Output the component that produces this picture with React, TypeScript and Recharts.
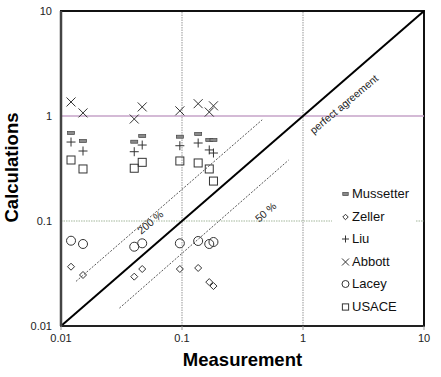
import React from 'react';
import {
  ScatterChart,
  Scatter,
  XAxis,
  YAxis,
  ReferenceLine,
  ReferenceArea,
  ReferenceDot,
  Legend,
  Label,
} from 'recharts';

// ---- data ----
const measurement = [0.0121, 0.0152, 0.0403, 0.0469, 0.096, 0.136, 0.168, 0.182];
const mussetter = [0.689, 0.578, 0.569, 0.645, 0.635, 0.674, 0.591, 0.591];
const zeller = [0.0367, 0.0306, 0.0295, 0.0349, 0.0349, 0.0357, 0.0262, 0.024];
const liu = [0.565, 0.464, 0.457, 0.529, 0.521, 0.553, 0.475, 0.444];
const abbott = [1.36, 1.07, 0.936, 1.22, 1.12, 1.31, 1.09, 1.25];
const lacey = [0.0649, 0.0604, 0.0569, 0.0613, 0.0613, 0.0645, 0.0604, 0.0631];
const usace = [0.381, 0.313, 0.318, 0.362, 0.373, 0.357, 0.313, 0.24];

const seriesNames = ['Mussetter', 'Zeller', 'Liu', 'Abbott', 'Lacey', 'USACE'];
const seriesValues = [mussetter, zeller, liu, abbott, lacey, usace];
const seriesMarkers = ['dash', 'diamond', 'plus', 'cross', 'circle', 'square'];

const axisTicks = [0.01, 0.1, 1, 10];
const axisTickLabels = ['0.01', '0.1', '1', '10'];

const perfectX = [0.01, 10];
const perfectY = [0.01, 10];
const line200X = [0.0133, 0.46];
const line200Y = [0.0266, 0.92];
const line50X = [0.0304, 0.76];
const line50Y = [0.0148, 0.38];

const annotationText = ['perfect  agreement', '200 %', '50 %'];
const annotationX = [2.17, 0.0546, 0.49];
const annotationY = [1.3, 0.0978, 0.122];

const FONT = "'Liberation Sans', Arial, Helvetica, sans-serif";
const INK = '#333';

function drawMarker(kind: string, cx: number, cy: number, s: number = 1) {
  const common = { stroke: INK, strokeWidth: 1, fill: 'none' };
  switch (kind) {
    case 'dash':
      return <rect x={cx - 3.5 * s} y={cy - 1.5} width={7 * s} height={3} fill="#8a8a8a" stroke="#444" strokeWidth={0.7} />;
    case 'diamond': {
      const d = 3.5 * s;
      return <path d={`M${cx},${cy - d}L${cx + d},${cy}L${cx},${cy + d}L${cx - d},${cy}Z`} {...common} />;
    }
    case 'plus': {
      const d = 4.5 * s;
      return <path d={`M${cx - d},${cy}H${cx + d}M${cx},${cy - d}V${cy + d}`} {...common} />;
    }
    case 'cross': {
      const d = 4.5 * s;
      return <path d={`M${cx - d},${cy - d}L${cx + d},${cy + d}M${cx - d},${cy + d}L${cx + d},${cy - d}`} {...common} />;
    }
    case 'circle':
      return <circle cx={cx} cy={cy} r={4.5 * s} {...common} />;
    case 'square':
    default: {
      const d = 4 * s;
      return <rect x={cx - d} y={cy - d} width={2 * d} height={2 * d} {...common} />;
    }
  }
}

const renderLegend = () => (
  <div style={{ background: '#fff', width: 83, fontFamily: FONT }}>
    {seriesNames.map((name, i) => (
      <div key={name} style={{ height: 22.5, display: 'flex', alignItems: 'center' }}>
        <svg width={20} height={14} style={{ display: 'block' }}>
          {drawMarker(seriesMarkers[i], 13.5, 7, 0.78)}
        </svg>
        <span style={{ fontSize: 13, color: '#111', lineHeight: '14px' }}>{name}</span>
      </div>
    ))}
  </div>
);

export default function App() {
  return (
    <div style={{ position: 'absolute', left: 0, top: 0 }}>
      <ScatterChart width={441} height={377} margin={{ top: 11, right: 17, left: 0, bottom: 0 }}>
        <XAxis
          type="number"
          dataKey="x"
          scale="log"
          domain={[0.01, 10]}
          allowDataOverflow
          ticks={axisTicks}
          tickFormatter={(v: number) => axisTickLabels[axisTicks.indexOf(v)] ?? String(v)}
          height={51}
          axisLine={{ stroke: '#222', strokeWidth: 2 }}
          tickLine={{ stroke: '#999' }}
          tickSize={4}
          tickMargin={4}
          tick={{ fontSize: 11, fill: '#222', fontFamily: FONT }}
        >
          <Label
            content={(props: any) => {
              const vb = props.viewBox || { x: 61, y: 326, width: 363, height: 51 };
              return (
                <text x={vb.x + vb.width / 2} y={vb.y + 33} textAnchor="middle" dominantBaseline="central" fontFamily={FONT} fontWeight="bold" fontSize={18.5} fill="#000">
                  Measurement
                </text>
              );
            }}
          />
        </XAxis>
        <YAxis
          type="number"
          dataKey="y"
          scale="log"
          domain={[0.01, 10]}
          allowDataOverflow
          ticks={axisTicks}
          tickFormatter={(v: number) => axisTickLabels[axisTicks.indexOf(v)] ?? String(v)}
          width={61}
          axisLine={{ stroke: '#444', strokeWidth: 2.5 }}
          tickLine={false}
          tickSize={6}
          tickMargin={3}
          tick={{ fontSize: 11, fill: '#222', fontFamily: FONT }}
        >
          <Label
            content={(props: any) => {
              const vb = props.viewBox || { x: 0, y: 11, width: 61, height: 315 };
              const cx = vb.x + 11;
              const cy = vb.y + vb.height / 2 - 1;
              return (
                <text x={cx} y={cy} transform={`rotate(-90 ${cx} ${cy})`} textAnchor="middle" dominantBaseline="central" fontFamily={FONT} fontWeight="bold" fontSize={18.5} fill="#000">
                  Calculations
                </text>
              );
            }}
          />
        </YAxis>

        {/* grid lines */}
        <ReferenceLine x={0.1} stroke="#a8a8a8" strokeWidth={1.2} strokeDasharray="1.5 1" />
        <ReferenceLine x={1} stroke="#a8a8a8" strokeWidth={1.2} strokeDasharray="1.5 1" />
        <ReferenceLine y={1} stroke="#c6a3c9" strokeWidth={1.5} />
        <ReferenceLine y={0.1} stroke="#a4b89c" strokeWidth={1.2} strokeDasharray="1.5 1" />

        {/* agreement lines */}
        <ReferenceLine
          segment={[{ x: line200X[0], y: line200Y[0] }, { x: line200X[1], y: line200Y[1] }]}
          stroke="#555"
          strokeWidth={1}
          strokeDasharray="2 1.5"
        />
        <ReferenceLine
          segment={[{ x: line50X[0], y: line50Y[0] }, { x: line50X[1], y: line50Y[1] }]}
          stroke="#555"
          strokeWidth={1}
          strokeDasharray="2 1.5"
        />
        <ReferenceLine
          segment={[{ x: perfectX[0], y: perfectY[0] }, { x: perfectX[1], y: perfectY[1] }]}
          stroke="#000"
          strokeWidth={2}
        />

        {/* frame */}
        <ReferenceArea x1={0.01} x2={10} y1={0.01} y2={10} fill="none" fillOpacity={0} stroke="#111" strokeWidth={2} />

        {seriesNames.map((name, si) => (
          <Scatter
            key={name}
            name={name}
            data={measurement.map((x, i) => ({ x, y: seriesValues[si][i] }))}
            isAnimationActive={false}
            shape={(p: any) => drawMarker(seriesMarkers[si], p.cx, p.cy)}
          />
        ))}

        {annotationText.map((t, i) => (
          <ReferenceDot
            key={t}
            x={annotationX[i]}
            y={annotationY[i]}
            r={0}
            shape={(p: any) => (
              <text
                x={p.cx}
                y={p.cy}
                transform={`rotate(-40 ${p.cx} ${p.cy})`}
                textAnchor="middle"
                dominantBaseline="central"
                fontFamily={FONT}
                fontSize={10.5}
                fill="#222"
              >
                {t}
              </text>
            )}
          />
        ))}

        <Legend
          layout="vertical"
          align="center"
          verticalAlign="middle"
          content={renderLegend}
          wrapperStyle={{ position: 'absolute', left: 332, top: 183, width: 83, height: 135, background: '#fff' }}
        />
      </ScatterChart>
    </div>
  );
}
